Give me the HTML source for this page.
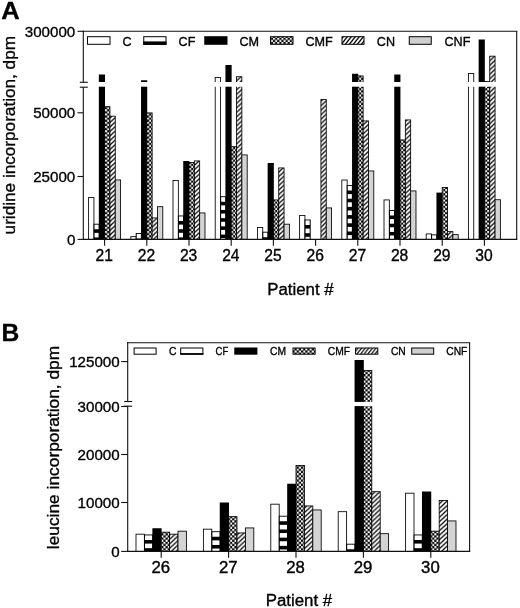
<!DOCTYPE html><html><head><meta charset="utf-8"><title>chart</title><style>html,body{margin:0;padding:0;background:#fff}body{width:520px;height:608px;overflow:hidden}svg{display:block;will-change:transform;filter:grayscale(1)}</style></head><body><svg width="520" height="608" viewBox="0 0 520 608" font-family="'Liberation Sans', sans-serif" fill="#000"><style>text{stroke:#000;stroke-width:0.35px}</style><defs><pattern id="hatA" patternUnits="userSpaceOnUse" width="4.826" height="4.5"><rect width="4.826" height="4.5" fill="#fff"/><path d="M-4.826 9.0 L9.651 -4.5 M-4.826 4.5 L9.651 -9.0 M-4.826 13.5 L9.651 0" stroke="#000" stroke-width="1.24"/></pattern><pattern id="chkA" patternUnits="userSpaceOnUse" width="4.2" height="4.2"><rect width="4.2" height="4.2" fill="#000"/><rect x="0.042" y="0.042" width="2.016" height="2.016" fill="#fff"/><rect x="2.142" y="2.142" width="2.016" height="2.016" fill="#fff"/></pattern><pattern id="lhatA" patternUnits="userSpaceOnUse" width="4.000" height="5.120"><rect width="4.000" height="5.120" fill="#fff"/><path d="M-4.000 10.240 L8.000 -5.120 M-4.000 5.120 L8.000 -10.240 M-4.000 15.359 L8.000 0" stroke="#000" stroke-width="1.32"/></pattern><pattern id="hatB" patternUnits="userSpaceOnUse" width="4.826" height="4.5"><rect width="4.826" height="4.5" fill="#fff"/><path d="M-4.826 9.0 L9.651 -4.5 M-4.826 4.5 L9.651 -9.0 M-4.826 13.5 L9.651 0" stroke="#000" stroke-width="1.24"/></pattern><pattern id="chkB" patternUnits="userSpaceOnUse" width="4.3" height="4.3"><rect width="4.3" height="4.3" fill="#000"/><rect x="0.043" y="0.043" width="2.064" height="2.064" fill="#fff"/><rect x="2.193" y="2.193" width="2.064" height="2.064" fill="#fff"/></pattern><pattern id="lhatB" patternUnits="userSpaceOnUse" width="3.600" height="4.608"><rect width="3.600" height="4.608" fill="#fff"/><path d="M-3.600 9.216 L7.200 -4.608 M-3.600 4.608 L7.200 -9.216 M-3.600 13.823 L7.200 0" stroke="#000" stroke-width="1.19"/></pattern></defs><rect x="88.61" y="197.43" width="5.33" height="41.97" fill="#fff" stroke="#000" stroke-width="0.85" /><rect x="93.52" y="223.75" width="6.18" height="15.65" fill="#000" /><rect x="94.54" y="224.65" width="4.13" height="4.60" fill="#fff" /><rect x="94.54" y="232.85" width="4.13" height="4.60" fill="#fff" /><rect x="98.84" y="74.50" width="6.18" height="164.90" fill="#000" /><rect x="104.60" y="106.67" width="5.33" height="132.73" fill="url(#chkA)" stroke="#000" stroke-width="0.85" /><rect x="109.93" y="116.17" width="5.33" height="123.23" fill="url(#hatA)" stroke="#000" stroke-width="0.85" /><rect x="115.26" y="179.93" width="5.33" height="59.47" fill="#d4d4d4" stroke="#000" stroke-width="0.85" /><rect x="130.81" y="236.68" width="5.33" height="2.72" fill="#fff" stroke="#000" stroke-width="0.85" /><rect x="135.72" y="233.00" width="6.18" height="6.40" fill="#000" /><rect x="136.74" y="233.90" width="4.13" height="4.60" fill="#fff" /><rect x="141.04" y="80.25" width="6.18" height="159.15" fill="#000" /><rect x="146.80" y="112.92" width="5.33" height="126.48" fill="url(#chkA)" stroke="#000" stroke-width="0.85" /><rect x="152.13" y="217.93" width="5.33" height="21.47" fill="url(#hatA)" stroke="#000" stroke-width="0.85" /><rect x="157.46" y="206.68" width="5.33" height="32.72" fill="#d4d4d4" stroke="#000" stroke-width="0.85" /><rect x="173.01" y="180.43" width="5.33" height="58.97" fill="#fff" stroke="#000" stroke-width="0.85" /><rect x="177.91" y="215.50" width="6.18" height="23.90" fill="#000" /><rect x="178.94" y="216.40" width="4.13" height="4.60" fill="#fff" /><rect x="178.94" y="224.60" width="4.13" height="4.60" fill="#fff" /><rect x="178.94" y="232.80" width="4.13" height="4.60" fill="#fff" /><rect x="183.24" y="161.00" width="6.18" height="78.40" fill="#000" /><rect x="189.00" y="162.43" width="5.33" height="76.97" fill="url(#chkA)" stroke="#000" stroke-width="0.85" /><rect x="194.33" y="160.93" width="5.33" height="78.47" fill="url(#hatA)" stroke="#000" stroke-width="0.85" /><rect x="199.66" y="212.93" width="5.33" height="26.47" fill="#d4d4d4" stroke="#000" stroke-width="0.85" /><rect x="215.21" y="77.42" width="5.33" height="161.98" fill="#fff" stroke="#000" stroke-width="0.85" /><rect x="220.11" y="196.25" width="6.18" height="43.15" fill="#000" /><rect x="221.14" y="197.15" width="4.13" height="4.60" fill="#fff" /><rect x="221.14" y="205.35" width="4.13" height="4.60" fill="#fff" /><rect x="221.14" y="213.55" width="4.13" height="4.60" fill="#fff" /><rect x="221.14" y="221.75" width="4.13" height="4.60" fill="#fff" /><rect x="221.14" y="229.95" width="4.13" height="4.60" fill="#fff" /><rect x="221.14" y="238.15" width="4.13" height="1.05" fill="#fff" /><rect x="225.44" y="65.00" width="6.18" height="174.40" fill="#000" /><rect x="231.20" y="146.68" width="5.33" height="92.72" fill="url(#chkA)" stroke="#000" stroke-width="0.85" /><rect x="236.53" y="76.72" width="5.33" height="162.68" fill="url(#hatA)" stroke="#000" stroke-width="0.85" /><rect x="241.86" y="154.93" width="5.33" height="84.47" fill="#d4d4d4" stroke="#000" stroke-width="0.85" /><rect x="257.41" y="227.43" width="5.33" height="11.97" fill="#fff" stroke="#000" stroke-width="0.85" /><rect x="262.31" y="231.75" width="6.18" height="7.65" fill="#000" /><rect x="263.34" y="232.65" width="4.13" height="4.60" fill="#fff" /><rect x="267.64" y="163.00" width="6.18" height="76.40" fill="#000" /><rect x="273.40" y="199.93" width="5.33" height="39.47" fill="url(#chkA)" stroke="#000" stroke-width="0.85" /><rect x="278.73" y="167.93" width="5.33" height="71.47" fill="url(#hatA)" stroke="#000" stroke-width="0.85" /><rect x="284.06" y="224.18" width="5.33" height="15.22" fill="#d4d4d4" stroke="#000" stroke-width="0.85" /><rect x="299.61" y="215.43" width="5.33" height="23.97" fill="#fff" stroke="#000" stroke-width="0.85" /><rect x="304.51" y="219.50" width="6.18" height="19.90" fill="#000" /><rect x="305.54" y="220.40" width="4.13" height="4.60" fill="#fff" /><rect x="305.54" y="228.60" width="4.13" height="4.60" fill="#fff" /><rect x="305.54" y="236.80" width="4.13" height="2.40" fill="#fff" /><rect x="320.93" y="99.42" width="5.33" height="139.98" fill="url(#hatA)" stroke="#000" stroke-width="0.85" /><rect x="326.26" y="207.93" width="5.33" height="31.47" fill="#d4d4d4" stroke="#000" stroke-width="0.85" /><rect x="341.81" y="180.03" width="5.33" height="59.38" fill="#fff" stroke="#000" stroke-width="0.85" /><rect x="346.71" y="185.00" width="6.18" height="54.40" fill="#000" /><rect x="347.74" y="185.90" width="4.13" height="4.60" fill="#fff" /><rect x="347.74" y="194.10" width="4.13" height="4.60" fill="#fff" /><rect x="347.74" y="202.30" width="4.13" height="4.60" fill="#fff" /><rect x="347.74" y="210.50" width="4.13" height="4.60" fill="#fff" /><rect x="347.74" y="218.70" width="4.13" height="4.60" fill="#fff" /><rect x="347.74" y="226.90" width="4.13" height="4.60" fill="#fff" /><rect x="347.74" y="235.10" width="4.13" height="4.10" fill="#fff" /><rect x="352.05" y="73.75" width="6.18" height="165.65" fill="#000" /><rect x="357.80" y="75.92" width="5.33" height="163.48" fill="url(#chkA)" stroke="#000" stroke-width="0.85" /><rect x="363.13" y="120.92" width="5.33" height="118.48" fill="url(#hatA)" stroke="#000" stroke-width="0.85" /><rect x="368.46" y="170.93" width="5.33" height="68.47" fill="#d4d4d4" stroke="#000" stroke-width="0.85" /><rect x="384.01" y="199.93" width="5.33" height="39.47" fill="#fff" stroke="#000" stroke-width="0.85" /><rect x="388.91" y="210.00" width="6.18" height="29.40" fill="#000" /><rect x="389.94" y="210.90" width="4.13" height="4.60" fill="#fff" /><rect x="389.94" y="219.10" width="4.13" height="4.60" fill="#fff" /><rect x="389.94" y="227.30" width="4.13" height="4.60" fill="#fff" /><rect x="389.94" y="235.50" width="4.13" height="3.70" fill="#fff" /><rect x="394.25" y="74.50" width="6.18" height="164.90" fill="#000" /><rect x="400.00" y="139.93" width="5.33" height="99.47" fill="url(#chkA)" stroke="#000" stroke-width="0.85" /><rect x="405.33" y="119.92" width="5.33" height="119.48" fill="url(#hatA)" stroke="#000" stroke-width="0.85" /><rect x="410.66" y="190.93" width="5.33" height="48.47" fill="#d4d4d4" stroke="#000" stroke-width="0.85" /><rect x="426.21" y="233.93" width="5.33" height="5.47" fill="#fff" stroke="#000" stroke-width="0.85" /><rect x="431.12" y="234.40" width="6.18" height="5.00" fill="#000" /><rect x="432.14" y="235.30" width="4.13" height="3.90" fill="#fff" /><rect x="436.45" y="192.60" width="6.18" height="46.80" fill="#000" /><rect x="442.20" y="187.43" width="5.33" height="51.97" fill="url(#chkA)" stroke="#000" stroke-width="0.85" /><rect x="447.53" y="231.62" width="5.33" height="7.78" fill="url(#hatA)" stroke="#000" stroke-width="0.85" /><rect x="452.86" y="234.62" width="5.33" height="4.78" fill="#d4d4d4" stroke="#000" stroke-width="0.85" /><rect x="468.41" y="73.42" width="5.33" height="165.98" fill="#fff" stroke="#000" stroke-width="0.85" /><rect x="478.64" y="39.50" width="6.18" height="199.90" fill="#000" /><rect x="484.40" y="81.42" width="5.33" height="157.98" fill="url(#chkA)" stroke="#000" stroke-width="0.85" /><rect x="489.73" y="56.17" width="5.33" height="183.23" fill="url(#hatA)" stroke="#000" stroke-width="0.85" /><rect x="495.06" y="199.73" width="5.33" height="39.67" fill="#d4d4d4" stroke="#000" stroke-width="0.85" /><rect x="85.30" y="82.00" width="430.40" height="4.70" fill="#fff" /><line x1="83.30" y1="30.70" x2="83.30" y2="82.30" stroke="#111" stroke-width="1.1"/><line x1="83.30" y1="87.20" x2="83.30" y2="240.00" stroke="#111" stroke-width="1.1"/><line x1="82.70" y1="31.30" x2="517.30" y2="31.30" stroke="#111" stroke-width="1.1"/><line x1="516.70" y1="31.30" x2="516.70" y2="239.40" stroke="#111" stroke-width="1.1"/><line x1="82.70" y1="239.40" x2="517.30" y2="239.40" stroke="#111" stroke-width="1.25"/><line x1="79.80" y1="82.30" x2="87.80" y2="82.30" stroke="#111" stroke-width="1.1"/><line x1="79.80" y1="87.20" x2="87.80" y2="87.20" stroke="#111" stroke-width="1.1"/><line x1="77.50" y1="31.30" x2="83.30" y2="31.30" stroke="#111" stroke-width="1.1"/><text x="75.30" y="36.90" text-anchor="end" font-size="15.15">300000</text><line x1="77.50" y1="112.80" x2="83.30" y2="112.80" stroke="#111" stroke-width="1.1"/><text x="75.30" y="118.40" text-anchor="end" font-size="15.15">50000</text><line x1="77.50" y1="176.50" x2="83.30" y2="176.50" stroke="#111" stroke-width="1.1"/><text x="75.30" y="182.10" text-anchor="end" font-size="15.15">25000</text><line x1="77.50" y1="239.40" x2="83.30" y2="239.40" stroke="#111" stroke-width="1.1"/><text x="75.30" y="245.00" text-anchor="end" font-size="15.15">0</text><line x1="104.60" y1="239.40" x2="104.60" y2="245.70" stroke="#111" stroke-width="1.1"/><text transform="translate(104.20,260.70) scale(1.0,1)" text-anchor="middle" font-size="15.6">21</text><line x1="146.80" y1="239.40" x2="146.80" y2="245.70" stroke="#111" stroke-width="1.1"/><text transform="translate(146.40,260.70) scale(1.0,1)" text-anchor="middle" font-size="15.6">22</text><line x1="189.00" y1="239.40" x2="189.00" y2="245.70" stroke="#111" stroke-width="1.1"/><text transform="translate(188.60,260.70) scale(1.0,1)" text-anchor="middle" font-size="15.6">23</text><line x1="231.20" y1="239.40" x2="231.20" y2="245.70" stroke="#111" stroke-width="1.1"/><text transform="translate(230.80,260.70) scale(1.0,1)" text-anchor="middle" font-size="15.6">24</text><line x1="273.40" y1="239.40" x2="273.40" y2="245.70" stroke="#111" stroke-width="1.1"/><text transform="translate(273.00,260.70) scale(1.0,1)" text-anchor="middle" font-size="15.6">25</text><line x1="315.60" y1="239.40" x2="315.60" y2="245.70" stroke="#111" stroke-width="1.1"/><text transform="translate(315.20,260.70) scale(1.0,1)" text-anchor="middle" font-size="15.6">26</text><line x1="357.80" y1="239.40" x2="357.80" y2="245.70" stroke="#111" stroke-width="1.1"/><text transform="translate(357.40,260.70) scale(1.0,1)" text-anchor="middle" font-size="15.6">27</text><line x1="400.00" y1="239.40" x2="400.00" y2="245.70" stroke="#111" stroke-width="1.1"/><text transform="translate(399.60,260.70) scale(1.0,1)" text-anchor="middle" font-size="15.6">28</text><line x1="442.20" y1="239.40" x2="442.20" y2="245.70" stroke="#111" stroke-width="1.1"/><text transform="translate(441.80,260.70) scale(1.0,1)" text-anchor="middle" font-size="15.6">29</text><line x1="484.40" y1="239.40" x2="484.40" y2="245.70" stroke="#111" stroke-width="1.1"/><text transform="translate(484.00,260.70) scale(1.0,1)" text-anchor="middle" font-size="15.6">30</text><rect x="87.50" y="36.70" width="22.50" height="7.60" fill="#fff" stroke="#000" stroke-width="1.0" /><text transform="translate(122.60,45.60) scale(1.000,1)" font-size="12.6">C</text><rect x="143.75" y="36.70" width="22.25" height="7.60" fill="#fff" stroke="#000" stroke-width="1.0" /><rect x="143.25" y="41.40" width="23.25" height="3.40" fill="#000" /><text transform="translate(178.60,45.60) scale(1.000,1)" font-size="12.6">CF</text><rect x="204.25" y="36.20" width="23.25" height="8.60" fill="#000" /><text transform="translate(239.50,45.60) scale(1.000,1)" font-size="12.6">CM</text><rect x="270.50" y="36.70" width="22.50" height="7.60" fill="url(#chkA)" stroke="#000" stroke-width="1.0" /><text transform="translate(305.50,45.60) scale(1.000,1)" font-size="12.6">CMF</text><rect x="342.00" y="36.70" width="22.00" height="7.60" fill="url(#lhatA)" stroke="#000" stroke-width="1.0" /><text transform="translate(376.80,45.60) scale(1.000,1)" font-size="12.6">CN</text><rect x="409.25" y="36.70" width="22.00" height="7.60" fill="#cfcfcf" stroke="#000" stroke-width="1.0" /><text transform="translate(444.50,45.60) scale(1.000,1)" font-size="12.6">CNF</text><rect x="136.00" y="534.17" width="8.40" height="17.23" fill="#fff" stroke="#000" stroke-width="0.85" /><rect x="143.97" y="534.50" width="9.25" height="16.90" fill="#000" /><rect x="145.00" y="535.40" width="7.20" height="4.60" fill="#fff" /><rect x="145.00" y="543.60" width="7.20" height="4.60" fill="#fff" /><rect x="152.37" y="528.25" width="9.25" height="23.15" fill="#000" /><rect x="161.20" y="532.17" width="8.40" height="19.23" fill="url(#chkB)" stroke="#000" stroke-width="0.85" /><rect x="169.60" y="534.17" width="8.40" height="17.23" fill="url(#hatB)" stroke="#000" stroke-width="0.85" /><rect x="178.00" y="531.17" width="8.40" height="20.23" fill="#d4d4d4" stroke="#000" stroke-width="0.85" /><rect x="203.40" y="529.17" width="8.40" height="22.23" fill="#fff" stroke="#000" stroke-width="0.85" /><rect x="211.37" y="531.25" width="9.25" height="20.15" fill="#000" /><rect x="212.40" y="532.15" width="7.20" height="4.60" fill="#fff" /><rect x="212.40" y="540.35" width="7.20" height="4.60" fill="#fff" /><rect x="212.40" y="548.55" width="7.20" height="2.65" fill="#fff" /><rect x="219.77" y="502.50" width="9.25" height="48.90" fill="#000" /><rect x="228.60" y="516.67" width="8.40" height="34.73" fill="url(#chkB)" stroke="#000" stroke-width="0.85" /><rect x="237.00" y="532.92" width="8.40" height="18.48" fill="url(#hatB)" stroke="#000" stroke-width="0.85" /><rect x="245.40" y="527.92" width="8.40" height="23.48" fill="#d4d4d4" stroke="#000" stroke-width="0.85" /><rect x="270.80" y="504.18" width="8.40" height="47.22" fill="#fff" stroke="#000" stroke-width="0.85" /><rect x="278.77" y="515.75" width="9.25" height="35.65" fill="#000" /><rect x="279.80" y="516.65" width="7.20" height="4.60" fill="#fff" /><rect x="279.80" y="524.85" width="7.20" height="4.60" fill="#fff" /><rect x="279.80" y="533.05" width="7.20" height="4.60" fill="#fff" /><rect x="279.80" y="541.25" width="7.20" height="4.60" fill="#fff" /><rect x="279.80" y="549.45" width="7.20" height="1.75" fill="#fff" /><rect x="287.18" y="483.75" width="9.25" height="67.65" fill="#000" /><rect x="296.00" y="465.43" width="8.40" height="85.97" fill="url(#chkB)" stroke="#000" stroke-width="0.85" /><rect x="304.40" y="505.93" width="8.40" height="45.47" fill="url(#hatB)" stroke="#000" stroke-width="0.85" /><rect x="312.80" y="509.93" width="8.40" height="41.47" fill="#d4d4d4" stroke="#000" stroke-width="0.85" /><rect x="338.20" y="511.68" width="8.40" height="39.72" fill="#fff" stroke="#000" stroke-width="0.85" /><rect x="346.17" y="543.75" width="9.25" height="7.65" fill="#000" /><rect x="347.20" y="544.65" width="7.20" height="4.60" fill="#fff" /><rect x="354.57" y="360.00" width="9.25" height="191.40" fill="#000" /><rect x="363.40" y="370.43" width="8.40" height="180.97" fill="url(#chkB)" stroke="#000" stroke-width="0.85" /><rect x="371.80" y="491.68" width="8.40" height="59.72" fill="url(#hatB)" stroke="#000" stroke-width="0.85" /><rect x="380.20" y="533.67" width="8.40" height="17.73" fill="#d4d4d4" stroke="#000" stroke-width="0.85" /><rect x="405.60" y="493.18" width="8.40" height="58.22" fill="#fff" stroke="#000" stroke-width="0.85" /><rect x="413.57" y="534.50" width="9.25" height="16.90" fill="#000" /><rect x="414.60" y="535.40" width="7.20" height="4.60" fill="#fff" /><rect x="414.60" y="543.60" width="7.20" height="4.60" fill="#fff" /><rect x="421.98" y="491.50" width="9.25" height="59.90" fill="#000" /><rect x="430.80" y="531.17" width="8.40" height="20.23" fill="url(#chkB)" stroke="#000" stroke-width="0.85" /><rect x="439.20" y="500.43" width="8.40" height="50.97" fill="url(#hatB)" stroke="#000" stroke-width="0.85" /><rect x="447.60" y="520.92" width="8.40" height="30.48" fill="#d4d4d4" stroke="#000" stroke-width="0.85" /><rect x="129.70" y="401.90" width="338.90" height="4.20" fill="#fff" /><line x1="127.70" y1="342.10" x2="127.70" y2="401.50" stroke="#111" stroke-width="1.1"/><line x1="127.70" y1="406.20" x2="127.70" y2="552.00" stroke="#111" stroke-width="1.1"/><line x1="127.10" y1="342.70" x2="470.20" y2="342.70" stroke="#111" stroke-width="1.1"/><line x1="469.60" y1="342.70" x2="469.60" y2="551.40" stroke="#111" stroke-width="1.1"/><line x1="127.10" y1="551.40" x2="470.20" y2="551.40" stroke="#111" stroke-width="1.25"/><line x1="124.20" y1="401.50" x2="132.20" y2="401.50" stroke="#111" stroke-width="1.1"/><line x1="124.20" y1="406.20" x2="132.20" y2="406.20" stroke="#111" stroke-width="1.1"/><line x1="121.20" y1="361.60" x2="127.70" y2="361.60" stroke="#111" stroke-width="1.1"/><text x="119.70" y="367.20" text-anchor="end" font-size="15.15">125000</text><line x1="121.20" y1="406.50" x2="127.70" y2="406.50" stroke="#111" stroke-width="1.1"/><text x="119.70" y="412.10" text-anchor="end" font-size="15.15">30000</text><line x1="121.20" y1="454.50" x2="127.70" y2="454.50" stroke="#111" stroke-width="1.1"/><text x="119.70" y="460.10" text-anchor="end" font-size="15.15">20000</text><line x1="121.20" y1="502.50" x2="127.70" y2="502.50" stroke="#111" stroke-width="1.1"/><text x="119.70" y="508.10" text-anchor="end" font-size="15.15">10000</text><line x1="121.20" y1="551.40" x2="127.70" y2="551.40" stroke="#111" stroke-width="1.1"/><text x="119.70" y="557.00" text-anchor="end" font-size="15.15">0</text><line x1="161.20" y1="551.40" x2="161.20" y2="557.70" stroke="#111" stroke-width="1.1"/><text transform="translate(160.80,572.70) scale(1.075,1)" text-anchor="middle" font-size="15.6">26</text><line x1="228.60" y1="551.40" x2="228.60" y2="557.70" stroke="#111" stroke-width="1.1"/><text transform="translate(228.20,572.70) scale(1.075,1)" text-anchor="middle" font-size="15.6">27</text><line x1="296.00" y1="551.40" x2="296.00" y2="557.70" stroke="#111" stroke-width="1.1"/><text transform="translate(295.60,572.70) scale(1.075,1)" text-anchor="middle" font-size="15.6">28</text><line x1="363.40" y1="551.40" x2="363.40" y2="557.70" stroke="#111" stroke-width="1.1"/><text transform="translate(363.00,572.70) scale(1.075,1)" text-anchor="middle" font-size="15.6">29</text><line x1="430.80" y1="551.40" x2="430.80" y2="557.70" stroke="#111" stroke-width="1.1"/><text transform="translate(430.40,572.70) scale(1.075,1)" text-anchor="middle" font-size="15.6">30</text><rect x="134.10" y="348.00" width="22.00" height="6.20" fill="#fff" stroke="#000" stroke-width="1.0" /><text transform="translate(168.90,355.00) scale(0.920,1)" font-size="11.2">C</text><rect x="180.70" y="348.00" width="22.20" height="6.20" fill="#fff" stroke="#000" stroke-width="1.0" /><rect x="180.20" y="353.10" width="23.20" height="1.60" fill="#000" /><text transform="translate(215.60,355.00) scale(0.846,1)" font-size="11.2">CF</text><rect x="234.25" y="347.50" width="23.15" height="7.20" fill="#000" /><text transform="translate(270.00,355.00) scale(0.920,1)" font-size="11.2">CM</text><rect x="293.00" y="348.00" width="22.10" height="6.20" fill="url(#chkB)" stroke="#000" stroke-width="1.0" /><text transform="translate(327.80,355.00) scale(0.920,1)" font-size="11.2">CMF</text><rect x="355.60" y="348.00" width="22.20" height="6.20" fill="url(#lhatB)" stroke="#000" stroke-width="1.0" /><text transform="translate(390.90,355.00) scale(0.920,1)" font-size="11.2">CN</text><rect x="411.70" y="348.00" width="22.00" height="6.20" fill="#cfcfcf" stroke="#000" stroke-width="1.0" /><text transform="translate(446.20,355.00) scale(0.920,1)" font-size="11.2">CNF</text><text transform="translate(1.2,18.8) scale(1.03,1)" font-size="24.8" font-weight="bold">A</text><text transform="translate(1.4,341) scale(1.0,1)" font-size="24.6" font-weight="bold">B</text><text x="300.4" y="295.3" text-anchor="middle" font-size="16.85">Patient #</text><text x="298.9" y="606.2" text-anchor="middle" font-size="16.85">Patient #</text><text transform="translate(14.8,135.2) rotate(-90)" text-anchor="middle" font-size="17.17">uridine incorporation, dpm</text><text transform="translate(58.8,447.5) rotate(-90)" text-anchor="middle" font-size="17.35">leucine incorporation, dpm</text></svg></body></html>
